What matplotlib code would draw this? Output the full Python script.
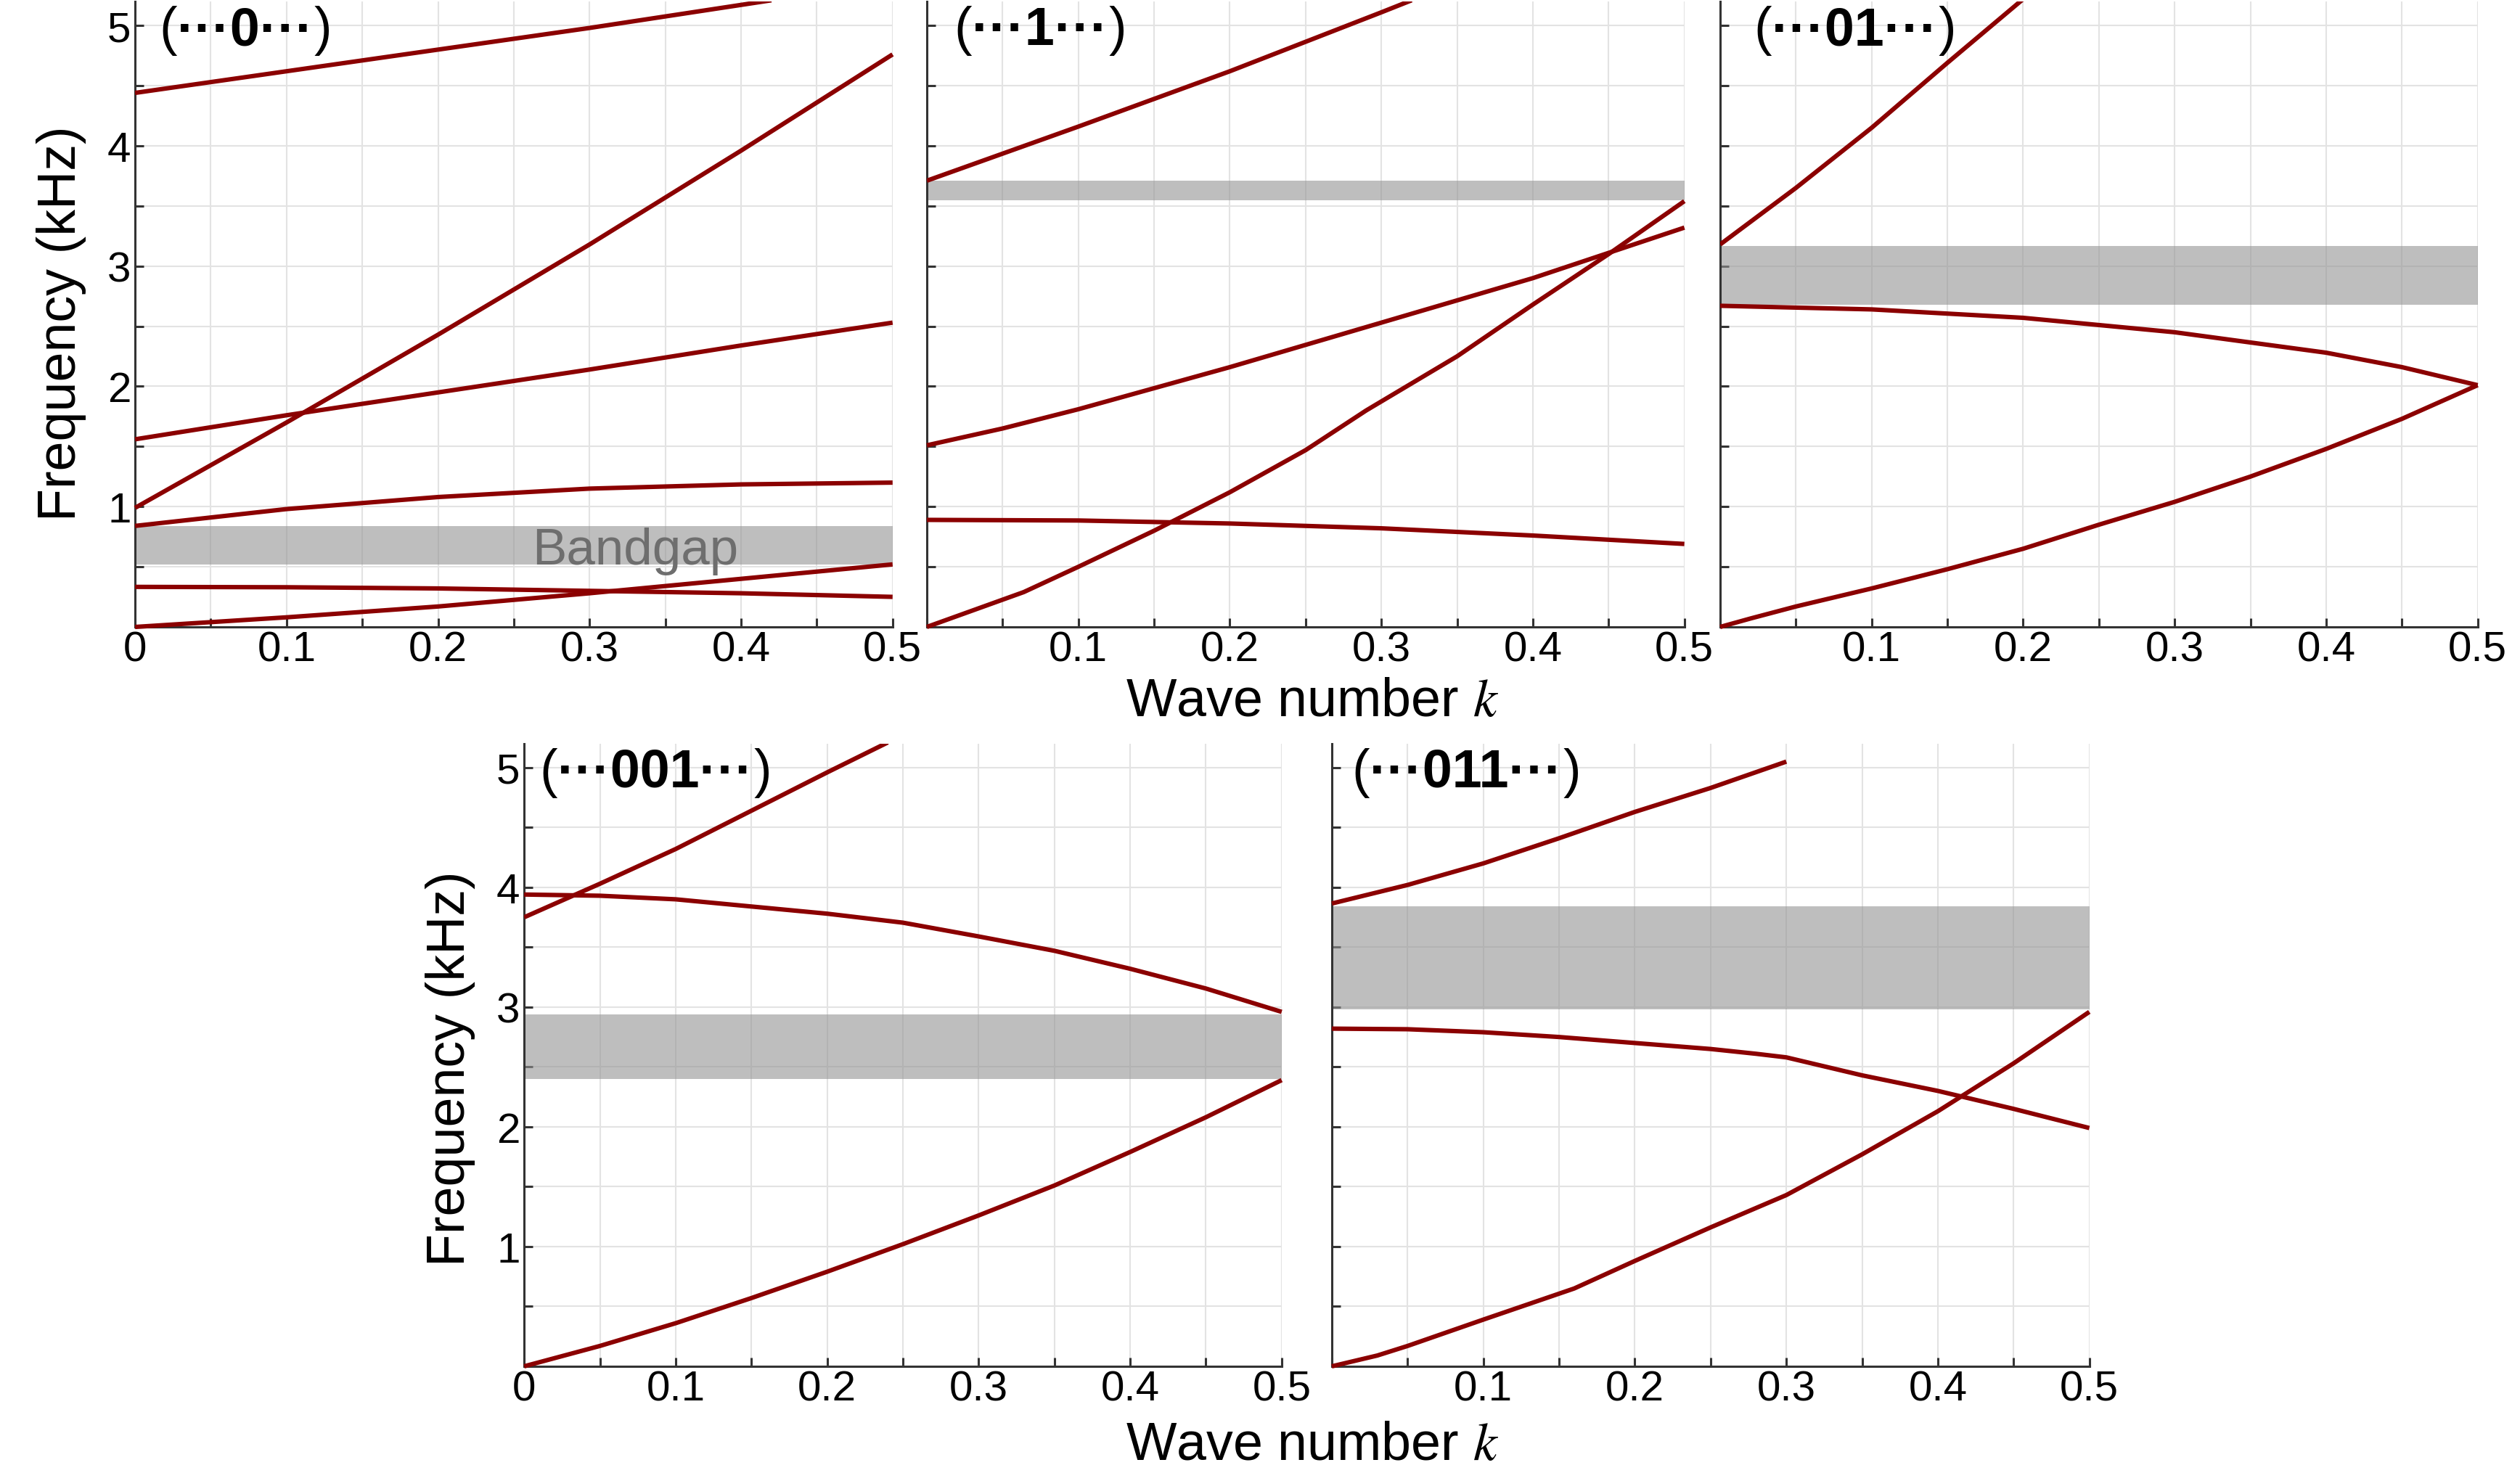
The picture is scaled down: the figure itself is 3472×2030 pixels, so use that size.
import matplotlib
matplotlib.use("Agg")
import matplotlib.pyplot as plt
from matplotlib.ticker import MultipleLocator

plt.rcParams['font.family'] = ['Liberation Sans', 'DejaVu Sans']
plt.rcParams['mathtext.fontset'] = 'stix'

# ---------------- data ----------------
# Panel (...0...)
p0_k1 = [0, 0.1, 0.2, 0.3, 0.42]
p0_f1 = [4.44, 4.62, 4.80, 4.98, 5.21]
p0_k2 = [0, 0.1, 0.2, 0.3, 0.4, 0.5]
p0_f2 = [0.99, 1.70, 2.43, 3.18, 3.96, 4.76]
p0_f3 = [1.56, 1.76, 1.95, 2.14, 2.34, 2.53]
p0_f4 = [0.84, 0.98, 1.08, 1.15, 1.185, 1.20]
p0_f5 = [0.333, 0.33, 0.32, 0.30, 0.28, 0.25]
p0_f6 = [0.0, 0.08, 0.17, 0.28, 0.40, 0.52]
p0_gap = (0.52, 0.84)

# Panel (...1...)
p1_k1 = [0, 0.1, 0.2, 0.3, 0.32]
p1_f1 = [3.71, 4.16, 4.62, 5.11, 5.21]
p1_k2 = [0, 0.05, 0.1, 0.2, 0.3, 0.4, 0.5]
p1_f2 = [1.51, 1.65, 1.81, 2.16, 2.53, 2.90, 3.32]
p1_k3 = [0, 0.064, 0.1, 0.15, 0.2, 0.25, 0.29, 0.35, 0.4, 0.45, 0.5]
p1_f3 = [0, 0.29, 0.50, 0.80, 1.12, 1.47, 1.80, 2.25, 2.68, 3.10, 3.54]
p1_k4 = [0, 0.1, 0.2, 0.3, 0.4, 0.5]
p1_f4 = [0.89, 0.885, 0.86, 0.82, 0.76, 0.69]
p1_gap = (3.55, 3.71)

# Panel (...01...)
p2_k1 = [0, 0.05, 0.1, 0.15, 0.2]
p2_f1 = [3.18, 3.65, 4.15, 4.69, 5.22]
p2_k2 = [0, 0.1, 0.2, 0.3, 0.4, 0.45, 0.5]
p2_f2 = [2.67, 2.64, 2.57, 2.45, 2.28, 2.16, 2.01]
p2_k3 = [0, 0.02, 0.05, 0.1, 0.15, 0.2, 0.25, 0.3, 0.35, 0.4, 0.45, 0.5]
p2_f3 = [0, 0.07, 0.17, 0.32, 0.48, 0.65, 0.85, 1.04, 1.25, 1.48, 1.73, 2.01]
p2_gap = (2.68, 3.17)

# Panel (...001...)
p3_k1 = [0, 0.05, 0.1, 0.15, 0.2, 0.24]
p3_f1 = [3.75, 4.03, 4.32, 4.64, 4.96, 5.21]
p3_k2 = [0, 0.05, 0.1, 0.2, 0.25, 0.3, 0.35, 0.4, 0.45, 0.5]
p3_f2 = [3.94, 3.93, 3.90, 3.78, 3.705, 3.59, 3.47, 3.32, 3.155, 2.96]
p3_k3 = [0, 0.05, 0.1, 0.15, 0.2, 0.25, 0.3, 0.35, 0.4, 0.45, 0.5]
p3_f3 = [0, 0.17, 0.36, 0.57, 0.79, 1.02, 1.26, 1.51, 1.79, 2.08, 2.39]
p3_gap = (2.40, 2.94)

# Panel (...011...)
p4_k1 = [0, 0.05, 0.1, 0.15, 0.2, 0.25, 0.3]
p4_f1 = [3.865, 4.02, 4.20, 4.41, 4.63, 4.83, 5.05]
p4_k2 = [0, 0.05, 0.1, 0.15, 0.2, 0.25, 0.28, 0.3, 0.35, 0.4, 0.45, 0.5]
p4_f2 = [2.82, 2.815, 2.79, 2.75, 2.70, 2.65, 2.61, 2.58, 2.43, 2.30, 2.15, 1.99]
p4_k3 = [0, 0.03, 0.05, 0.1, 0.16, 0.2, 0.25, 0.3, 0.35, 0.4, 0.45, 0.5]
p4_f3 = [0, 0.09, 0.17, 0.39, 0.65, 0.88, 1.16, 1.43, 1.77, 2.13, 2.53, 2.96]
p4_gap = (2.98, 3.84)

panel_mid = ["0", "1", "01", "001", "011"]

xticks_full = [0, 0.1, 0.2, 0.3, 0.4, 0.5]
xlabels_full = ["0", "0.1", "0.2", "0.3", "0.4", "0.5"]
xticks_part = [0.1, 0.2, 0.3, 0.4, 0.5]
xlabels_part = ["0.1", "0.2", "0.3", "0.4", "0.5"]
yticks = [1, 2, 3, 4, 5]
ylabels = ["1", "2", "3", "4", "5"]

# ---------------- style ----------------
LINE_C = '#8b0000'
BAND_C = '#949494'
GRID_C = '#e3e3e3'
SPINE_C = '#333333'
FS_LAB = 53
FS_TICK = 42
YMAX = 5.2
LW = 4.4

fig = plt.figure(figsize=(34.72, 20.31), dpi=100)

W = 0.3006
H_TOP = 0.4244
H_BOT = 0.4225
ax0 = fig.add_axes([0.0536, 0.5741, W, H_TOP])
ax1 = fig.add_axes([0.3678, 0.5741, W, H_TOP])
ax2 = fig.add_axes([0.6826, 0.5741, W, H_TOP])
ax3 = fig.add_axes([0.2080, 0.0724, W, H_BOT])
ax4 = fig.add_axes([0.5285, 0.0724, W, H_BOT])


def style(ax, first_col, ylab):
    ax.set_xlim(0, 0.5)
    ax.set_ylim(0, YMAX)
    ax.set_axisbelow(True)
    for s in ['top', 'right']:
        ax.spines[s].set_visible(False)
    for s in ['left', 'bottom']:
        ax.spines[s].set_color(SPINE_C)
        ax.spines[s].set_linewidth(2.2)
    if first_col:
        ax.set_xticks(xticks_full, xlabels_full)
    else:
        ax.set_xticks(xticks_part, xlabels_part)
    ax.set_yticks(yticks, ylabels)
    ax.xaxis.set_minor_locator(MultipleLocator(0.05))
    ax.yaxis.set_minor_locator(MultipleLocator(0.5))
    ax.tick_params(which='both', direction='in', length=8.5, width=2.2,
                   color=SPINE_C, labelsize=FS_TICK, top=False, right=False)
    ax.tick_params(axis='x', pad=3)
    ax.tick_params(axis='y', pad=4, labelleft=ylab)
    ax.grid(which='both', color=GRID_C, linewidth=1.5)


def band(ax, k, f):
    ax.plot(k, f, color=LINE_C, lw=LW, clip_on=max(f) > YMAX,
            solid_capstyle='butt', zorder=3)


def label(ax, mid, x0=0.015, y0=4.96):
    t1 = ax.text(x0, y0, "(", fontsize=FS_LAB, va='center', ha='left')
    t2 = ax.annotate("\u00b7\u00b7\u00b7" + mid + "\u00b7\u00b7\u00b7", xy=(1, 0),
                     xycoords=t1, va='bottom', ha='left',
                     fontsize=FS_LAB, fontweight='bold')
    ax.annotate(")", xy=(1, 0), xycoords=t2, va='bottom', ha='left',
                fontsize=FS_LAB)


# Panel 0
style(ax0, True, True)
ax0.axhspan(*p0_gap, color=BAND_C, alpha=0.6, lw=0)
band(ax0, p0_k1, p0_f1)
for f in [p0_f2, p0_f3, p0_f4, p0_f5, p0_f6]:
    band(ax0, p0_k2, f)
ax0.text(0.330, 0.525, "Bandgap", ha='center', va='baseline',
         fontsize=51, color='#6e6e6e')
label(ax0, panel_mid[0], x0=0.016)

# Panel 1
style(ax1, False, False)
ax1.axhspan(*p1_gap, color=BAND_C, alpha=0.6, lw=0)
band(ax1, p1_k1, p1_f1)
band(ax1, p1_k2, p1_f2)
band(ax1, p1_k3, p1_f3)
band(ax1, p1_k4, p1_f4)
label(ax1, panel_mid[1], x0=0.018)

# Panel 2
style(ax2, False, False)
ax2.axhspan(*p2_gap, color=BAND_C, alpha=0.6, lw=0)
band(ax2, p2_k1, p2_f1)
band(ax2, p2_k2, p2_f2)
band(ax2, p2_k3, p2_f3)
label(ax2, panel_mid[2], x0=0.022)

# Panel 3
style(ax3, True, True)
ax3.axhspan(*p3_gap, color=BAND_C, alpha=0.6, lw=0)
band(ax3, p3_k1, p3_f1)
band(ax3, p3_k2, p3_f2)
band(ax3, p3_k3, p3_f3)
label(ax3, panel_mid[3], x0=0.010)

# Panel 4
style(ax4, False, False)
ax4.axhspan(*p4_gap, color=BAND_C, alpha=0.6, lw=0)
band(ax4, p4_k1, p4_f1)
band(ax4, p4_k2, p4_f2)
band(ax4, p4_k3, p4_f3)
label(ax4, panel_mid[4], x0=0.013)

# Axis titles
fig.text(0.0242, 0.7804, "Frequency (kHz)", rotation=90, ha='center',
         va='center', fontsize=FS_LAB)
fig.text(0.1786, 0.2747, "Frequency (kHz)", rotation=90, ha='center',
         va='center', fontsize=FS_LAB)
fig.text(0.5207, 0.514, "Wave number $k$", ha='center', va='baseline',
         fontsize=FS_LAB)
fig.text(0.5207, 0.0094, "Wave number $k$", ha='center', va='baseline',
         fontsize=FS_LAB)

fig.savefig("out.png", dpi=100)
